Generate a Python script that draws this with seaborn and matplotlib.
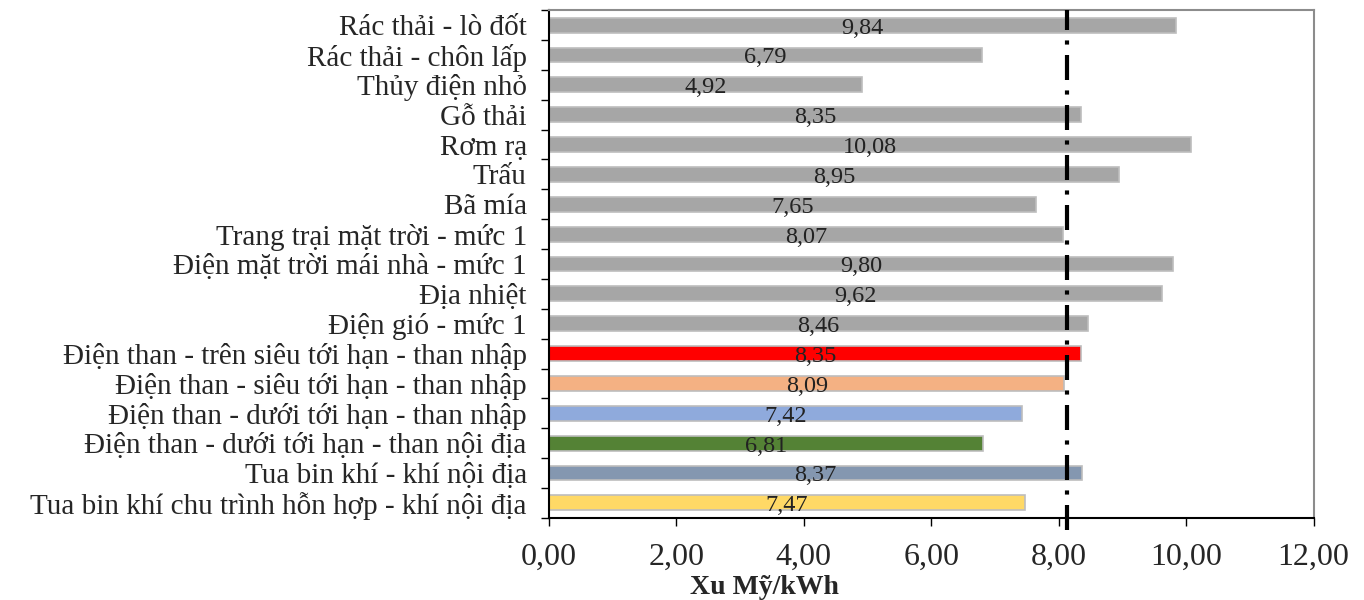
import matplotlib
matplotlib.use("Agg")
import matplotlib.pyplot as plt
import seaborn as sns
import pandas as pd
from matplotlib.ticker import FuncFormatter, FixedLocator

categories = [
    "Rác thải - lò đốt",
    "Rác thải - chôn lấp",
    "Thủy điện nhỏ",
    "Gỗ thải",
    "Rơm rạ",
    "Trấu",
    "Bã mía",
    "Trang trại mặt trời - mức 1",
    "Điện mặt trời mái nhà - mức 1",
    "Địa nhiệt",
    "Điện gió - mức 1",
    "Điện than - trên siêu tới hạn - than nhập",
    "Điện than - siêu tới hạn - than nhập",
    "Điện than - dưới tới hạn - than nhập",
    "Điện than - dưới tới hạn - than nội địa",
    "Tua bin khí - khí nội địa",
    "Tua bin khí chu trình hỗn hợp - khí nội địa",
]
costs = [9.84, 6.79, 4.92, 8.35, 10.08, 8.95, 7.65, 8.07, 9.80, 9.62, 8.46,
         8.35, 8.09, 7.42, 6.81, 8.37, 7.47]
bar_colors = ["#a6a6a6"] * 11 + ["#ff0000", "#f4b183", "#8faadc", "#548235",
                                 "#8497b0", "#ffd966"]
ref_cost = 8.13
xticks = [0, 2, 4, 6, 8, 10, 12]

sns.set_style("white")
plt.rcParams["font.family"] = ["Liberation Serif", "DejaVu Serif"]

df = pd.DataFrame({"loai": categories, "chi_phi": costs})

fig = plt.figure(figsize=(13.64, 6), dpi=100)
ax = fig.add_axes([0.4025, 0.137, 0.5605, 0.846])

sns.barplot(data=df, x="chi_phi", y="loai", hue="loai", palette=bar_colors,
            legend=False, width=0.5, edgecolor="#bdbdbd", linewidth=1.2,
            saturation=1, ax=ax)

fmt = lambda v: f"{v:.2f}".replace(".", ",")
for i, v in enumerate(costs):
    ax.text(v / 2, i + 0.1, fmt(v), ha="center", va="center",
            fontsize=17.5, color="#222222")

# duong tham chieu
ax.axvline(ref_cost, ymin=-0.025, ymax=1, color="black", lw=3,
           dashes=(6, 2.5, 1, 2.5), clip_on=False, zorder=5)

ax.set_xlim(0, 12)
ax.set_ylim(len(categories) - 0.5, -0.5)
ax.set_xticks(xticks)
ax.xaxis.set_major_formatter(FuncFormatter(lambda v, p: fmt(v)))
ax.set_xlabel("Xu Mỹ/kWh", fontsize=20, fontweight="bold")
ax.xaxis.set_label_coords(0.282, -0.112)
ax.set_ylabel("")

ax.yaxis.set_minor_locator(FixedLocator([i - 0.5 for i in range(len(categories) + 1)]))
ax.tick_params(axis="y", which="major", length=0, labelsize=21, pad=16)
ax.tick_params(axis="y", which="minor", length=6, width=1, color="black", left=True)
ax.tick_params(axis="x", which="major", length=6, width=1, color="black",
               labelsize=23, pad=12, bottom=True, direction="out")

for side in ["left", "bottom"]:
    ax.spines[side].set_color("black")
    ax.spines[side].set_linewidth(1.5)
for side in ["top", "right"]:
    ax.spines[side].set_color("#8c8c8c")
    ax.spines[side].set_linewidth(1.5)

fig.savefig("out.png", dpi=100)
